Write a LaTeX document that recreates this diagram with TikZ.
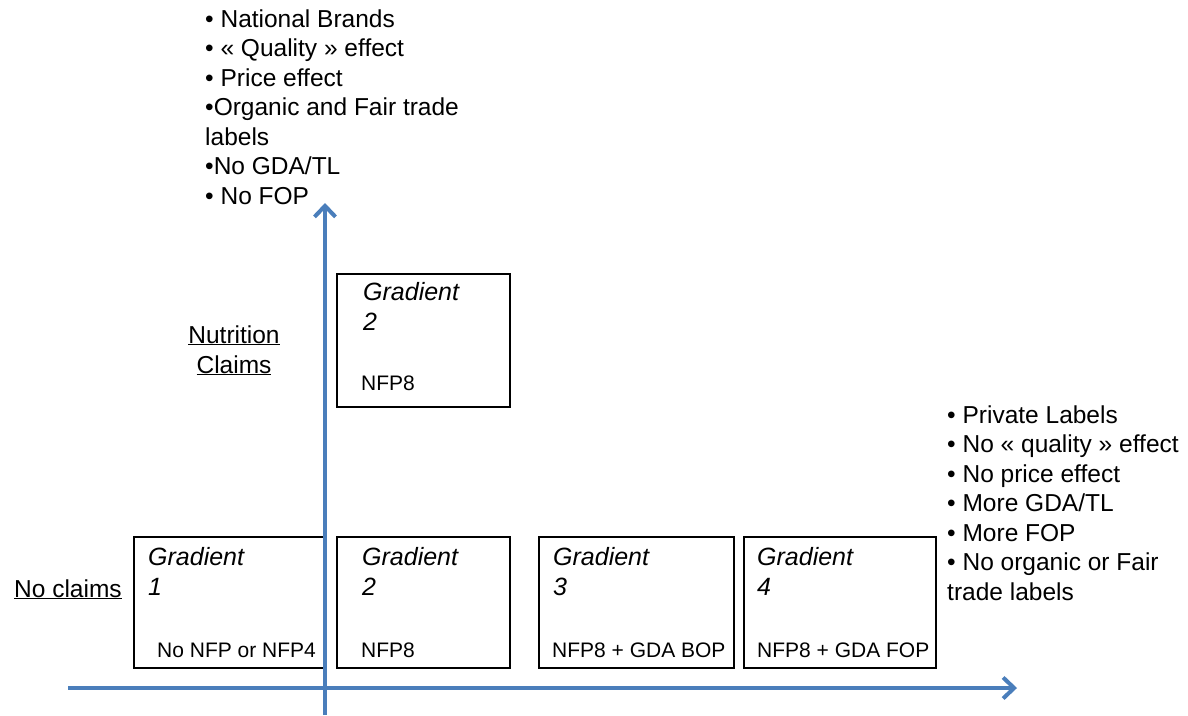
\documentclass[tikz,border=0pt]{standalone}
\usepackage{fontspec}
\setmainfont{Liberation Sans}
\usetikzlibrary{arrows.meta, calc, positioning}
\definecolor{axisblue}{RGB}{74,126,187}
\tikzstyle{gradbox} = [rectangle, draw=black, line width=1.8pt, anchor=north west, inner sep=0, minimum height=131]
\tikzstyle{gradname} = [anchor=base west, inner sep=0, align=left, font=\fontsize{25}{29.5}\selectfont\itshape]
\tikzstyle{gradnote} = [anchor=base west, inner sep=0, font=\fontsize{21}{25}\selectfont]
\tikzstyle{bullets} = [anchor=base west, inner sep=0, align=left, font=\fontsize{24.5}{29.5}\selectfont]
\tikzstyle{axislabel} = [anchor=base, inner sep=0, align=center, font=\fontsize{24.5}{30}\selectfont]
\tikzstyle{axis} = [draw=axisblue, line width=4pt, -{Straight Barb[length=11pt, width=21pt]}]

\begin{document}
\begin{tikzpicture}[x=1pt, y=-1pt]
\useasboundingbox (0,0) rectangle (1188,715);

% boxes
\node (g1) [gradbox, minimum width=191] at (133,536) {};
\node (g2) [gradbox, minimum width=173] at (336,536) {};
\node (g3) [gradbox, minimum width=195] at (538,536) {};
\node (g4) [gradbox, minimum width=192] at (743,536) {};
\node (g2top) [gradbox, minimum width=173, minimum height=133] at (336,273) {};

% base anchor = last line
\node (g1name) [gradname] at ($(g1.north west)+(15,59)$) {Gradient\\1};
\node (g2name) [gradname] at ($(g2.north west)+(26,59)$) {Gradient\\2};
\node (g3name) [gradname] at ($(g3.north west)+(15,59)$) {Gradient\\3};
\node (g4name) [gradname] at ($(g4.north west)+(14,59)$) {Gradient\\4};
\node (g2topname) [gradname] at ($(g2top.north west)+(27,57)$) {Gradient\\2};

\node (g1note) [gradnote] at ($(g1.north west)+(24,121)$) {No NFP or NFP4};
\node (g2note) [gradnote] at ($(g2.north west)+(25,121)$) {NFP8};
\node (g3note) [gradnote] at ($(g3.north west)+(14,121)$) {NFP8 + GDA BOP};
\node (g4note) [gradnote] at ($(g4.north west)+(14,121)$) {NFP8 + GDA FOP};
\node (g2topnote) [gradnote] at ($(g2top.north west)+(25,117)$) {NFP8};

% axes
\coordinate (xstart) at (68,688);
\coordinate (xend) at (1017,688);
\coordinate (ystart) at (325,715);
\coordinate (yend) at (325,203);
\draw [axis] (xstart) -- (xend);
\draw [axis] (ystart) -- (yend);

% labels
\node (claims) [axislabel] at (234,373) {\underline{Nutrition}\\\underline{Claims}};
\node (noclaims) [axislabel, anchor=base west] at (14,597) {\underline{No claims}};

\node (national) [bullets] at (205,204) {• National Brands\\• « Quality » effect\\• Price effect\\•Organic and Fair trade\\labels\\•No GDA/TL\\• No FOP};
\node (private) [bullets] at (947,600) {• Private Labels\\• No « quality » effect\\• No price effect\\• More GDA/TL\\• More FOP\\• No organic or Fair\\trade labels};
\end{tikzpicture}
\end{document}
